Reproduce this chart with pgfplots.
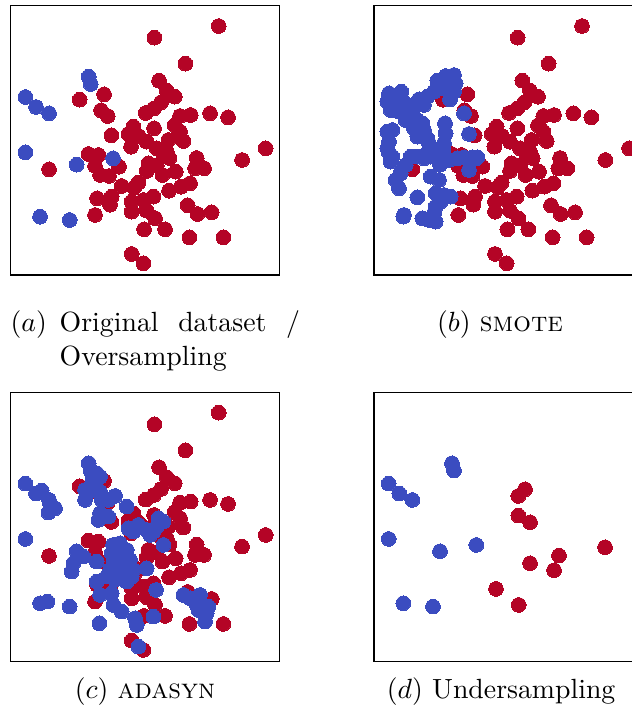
\documentclass[border=0pt]{standalone}
\usepackage{pgfplots}
\pgfplotsset{compat=1.18}
\usepackage{pgfplotstable}
\definecolor{cred}{RGB}{180,4,38}
\definecolor{cblue}{RGB}{59,76,192}
\pgfplotsset{
  panel/.style={scale only axis, width=96.73pt, height=96.95pt,
    xmin=32, xmax=838, ymin=17, ymax=825, y dir=reverse,
    xtick=\empty, ytick=\empty, axis line style={line width=0.5pt, black},
    clip=true, anchor=north west},
  red pts/.style={only marks, mark=*, mark size=2.65pt, mark options={fill=cred, draw=cred, line width=0pt}},
  blue pts/.style={only marks, mark=*, mark size=2.65pt, mark options={fill=cblue, draw=cblue, line width=0pt}},
}
\pgfplotstableread{
x y
656 78
463 113
556 191
477 242
500 272
524 290
312 283
239 299
483 307
462 325
437 339
303 331
323 348
540 348
572 345
630 340
684 352
400 380
385 402
416 408
462 385
524 376
540 395
334 406
505 420
550 423
440 425
393 440
470 445
500 455
797 445
726 480
265 462
295 465
490 465
508 474
590 474
285 498
357 500
445 490
470 497
585 505
612 505
147 508
300 525
327 528
440 513
487 525
527 515
365 558
403 562
415 548
507 572
543 560
570 550
291 595
335 590
330 614
395 605
430 600
460 590
563 616
592 642
635 637
285 645
395 635
440 632
465 655
432 688
495 688
568 712
670 712
395 762
430 790
}\redA
\pgfplotstableread{
x y
266 230
272 252
76 291
108 321
147 340
76 457
230 494
339 475
120 650
209 660
}\blueA
\pgfplotstableread{
x y
485 308
465 328
465 387
500 407
725 482
587 507
500 530
572 551
398 607
466 655
}\redD
\pgfplotstableread{
x y
266 230
272 252
76 291
108 321
147 340
76 457
230 494
339 475
120 650
209 660
222 242
247 228
272 225
277 250
272 275
260 298
237 265
212 275
192 290
167 298
160 308
182 315
77 280
114 275
72 305
92 310
117 300
132 315
82 330
107 335
127 360
147 355
162 360
177 370
182 390
192 415
197 430
195 455
152 385
162 410
72 395
87 390
77 425
72 445
87 470
82 485
245 370
247 400
242 430
240 455
142 470
162 470
182 475
202 470
227 480
257 480
282 475
302 472
327 472
342 472
212 455
317 510
302 340
317 402
127 495
112 520
97 540
107 565
202 530
227 540
162 592
217 580
242 585
262 590
232 605
217 620
212 640
217 665
177 655
197 660
122 645
}\blueB
\pgfplotstableread{
x y
266 230
272 252
76 291
108 321
147 340
76 457
230 494
339 475
120 650
209 660
290 260
300 270
278 282
125 312
150 352
165 365
145 378
255 310
255 340
280 310
300 315
305 340
345 328
325 340
380 360
300 380
295 400
325 390
385 425
415 415
440 430
450 445
470 420
475 395
490 405
460 435
400 435
490 475
250 510
220 530
215 555
290 525
350 490
380 490
340 520
370 525
390 520
330 550
365 555
400 550
345 580
380 585
395 570
355 500
335 500
360 470
375 505
350 530
320 570
440 545
290 585
300 625
335 620
340 655
365 675
405 695
410 715
460 690
468 610
298 710
415 780
550 625
570 635
600 625
595 670
620 680
615 705
590 655
625 660
142 645
}\blueC
\begin{document}
\begin{tikzpicture}
\useasboundingbox (0pt,0pt) rectangle (227.52pt,-254.52pt);
\begin{scope}
\clip (0pt,0pt) rectangle (227.52pt,-254.52pt);
\begin{axis}[panel, at={(3.85pt,-2.05pt)}]
  \addplot[red pts] table {\redA};
  \addplot[blue pts] table {\blueA};
\end{axis}
\begin{axis}[panel, at={(134.64pt,-2.05pt)}]
  \addplot[red pts] table {\redA};
  \addplot[blue pts] table {\blueB};
\end{axis}
\begin{axis}[panel, at={(3.85pt,-141.23pt)}]
  \addplot[red pts] table {\redA};
  \addplot[blue pts] table {\blueC};
\end{axis}
\begin{axis}[panel, at={(134.64pt,-141.23pt)}]
  \addplot[red pts] table {\redD};
  \addplot[blue pts] table {\blueA};
\end{axis}
\end{scope}
\node[anchor=base west, inner sep=0pt] at (3.6pt,-119.5pt) {$(a)$};
\node[anchor=base west, inner sep=0pt] at (21.3pt,-119.5pt) {\parbox[t]{86.5pt}{\baselineskip=12pt Original dataset / Oversampling}};
\node[anchor=base, inner sep=0pt] at (180pt,-119.5pt) {$(b)$ \textsc{smote}};
\node[anchor=base, inner sep=0pt] at (52.2pt,-251.3pt) {$(c)$ \textsc{adasyn}};
\node[anchor=base, inner sep=0pt] at (180.4pt,-251.3pt) {$(d)$ Undersampling};
\end{tikzpicture}
\end{document}
